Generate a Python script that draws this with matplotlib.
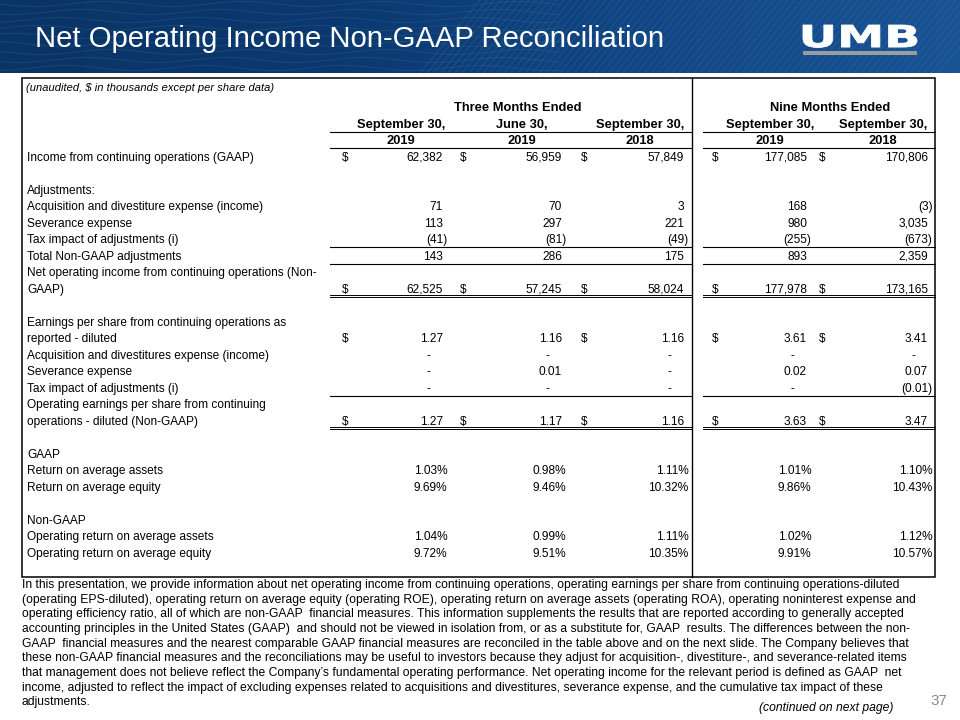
import numpy as np
import matplotlib.pyplot as plt
from matplotlib.textpath import TextPath
from matplotlib.font_manager import FontProperties
from matplotlib.patches import PathPatch, Rectangle
from matplotlib.colors import LinearSegmentedColormap
from matplotlib.transforms import Affine2D

plt.rcParams["font.family"] = ["Liberation Sans", "DejaVu Sans"]

TITLE = "Net Operating Income Non-GAAP Reconciliation"
NOTE = "(unaudited, $ in thousands except per share data)"
GROUPS = ["Three Months Ended", "Nine Months Ended"]
PERIODS = ["September 30,", "June 30,", "September 30,", "September 30,", "September 30,"]
YEARS = ["2019", "2019", "2018", "2019", "2018"]

# $ thousands
income_gaap = [62382, 56959, 57849, 177085, 170806]
acq_expense = [71, 70, 3, 168, -3]
severance = [113, 297, 221, 980, 3035]
tax_impact = [-41, -81, -49, -255, -673]
total_adj = [143, 286, 175, 893, 2359]
net_op_income = [62525, 57245, 58024, 177978, 173165]
# per share
eps_reported = [1.27, 1.16, 1.16, 3.61, 3.41]
eps_acq = [0, 0, 0, 0, 0]
eps_severance = [0, 0.01, 0, 0.02, 0.07]
eps_tax = [0, 0, 0, 0, -0.01]
eps_operating = [1.27, 1.17, 1.16, 3.63, 3.47]
# ratios, %
roa = [1.03, 0.98, 1.11, 1.01, 1.10]
roe = [9.69, 9.46, 10.32, 9.86, 10.43]
op_roa = [1.04, 0.99, 1.11, 1.02, 1.12]
op_roe = [9.72, 9.51, 10.35, 9.91, 10.57]

ALL = [1, 1, 1, 1, 1]
# (row, label, values, kind, dollar signs)
ROWS = [
    (4, "Income from continuing operations (GAAP)", income_gaap, "int", ALL),
    (6, "Adjustments:", None, None, None),
    (7, "Acquisition and divestiture expense (income)", acq_expense, "int", None),
    (8, "Severance expense", severance, "int", None),
    (9, "Tax impact of adjustments (i)", tax_impact, "int", None),
    (10, "Total Non-GAAP adjustments", total_adj, "int", None),
    (11, "Net operating income from continuing operations (Non-", None, None, None),
    (12, "GAAP)", net_op_income, "int", ALL),
    (14, "Earnings per share from continuing operations as", None, None, None),
    (15, "reported - diluted", eps_reported, "eps", [1, 0, 1, 1, 1]),
    (16, "Acquisition and divestitures expense (income)", eps_acq, "eps", None),
    (17, "Severance expense", eps_severance, "eps", None),
    (18, "Tax impact of adjustments (i)", eps_tax, "eps", None),
    (19, "Operating earnings per share from continuing", None, None, None),
    (20, "operations - diluted (Non-GAAP)", eps_operating, "eps", ALL),
    (22, "GAAP", None, None, None),
    (23, "Return on average assets", roa, "pct", None),
    (24, "Return on average equity", roe, "pct", None),
    (26, "Non-GAAP", None, None, None),
    (27, "Operating return on average assets", op_roa, "pct", None),
    (28, "Operating return on average equity", op_roe, "pct", None),
]
SINGLE_RULES = [2, 3, 9, 10, 18]
DOUBLE_RULES = [12, 20]

FOOTNOTE = [
    "In this presentation, we provide information about net operating income from continuing operations, operating earnings per share from continuing operations-diluted",
    "(operating EPS-diluted), operating return on average equity (operating ROE), operating return on average assets (operating ROA), operating noninterest expense and",
    "operating efficiency ratio, all of which are non-GAAP  financial measures. This information supplements the results that are reported according to generally accepted",
    "accounting principles in the United States (GAAP)  and should not be viewed in isolation from, or as a substitute for, GAAP  results. The differences between the non-",
    "GAAP  financial measures and the nearest comparable GAAP financial measures are reconciled in the table above and on the next slide. The Company believes that",
    "these non-GAAP financial measures and the reconciliations may be useful to investors because they adjust for acquisition-, divestiture-, and severance-related items",
    "that management does not believe reflect the Company\u2019s fundamental operating performance. Net operating income for the relevant period is defined as GAAP  net",
    "income, adjusted to reflect the impact of excluding expenses related to acquisitions and divestitures, severance expense, and the cumulative tax impact of these",
    "adjustments.",
]

# layout (pixels)
COL_RIGHT = [443, 562, 684, 807, 928]
COL_DOLLAR = [345, 463, 584, 715, 822]
COL_CENTER = [401, 522, 640, 770, 883]
GROUP_CENTER = [518, 830]
SPANS = [(330, 692), (703, 935)]
PAREN = 4.5
FS = 8.6
FS_NOTE = 8.75
BASE = 4.3   # half cap height, to sit text on a common baseline


def ry(i):
    return 90.5 + 16.5 * i


def fmt(v, kind):
    if kind == "pct":
        return f"{v:.2f}%"
    if kind == "eps":
        if v == 0:
            return "-"
        s = f"{abs(v):.2f}"
    else:
        s = f"{abs(v):,}"
    return f"({s})" if v < 0 else s


def txt(x, y, s, **kw):
    kw.setdefault("fontsize", FS)
    ax.text(x, y + BASE, s, va="baseline", **kw)


fig = plt.figure(figsize=(9.6, 7.2), dpi=100)
ax = fig.add_axes([0, 0, 1, 1])
ax.set_xlim(0, 960)
ax.set_ylim(720, 0)
ax.axis("off")

# header band
cmap = LinearSegmentedColormap.from_list("hdr", ["#0a3466", "#0b3870", "#114684", "#185394"])
grad = np.linspace(0, 1, 256)[None, :]
ax.imshow(grad, extent=[0, 960, 73, 0], cmap=cmap, aspect="auto", zorder=0)
for x0 in range(480, 1000, 7):
    ax.plot([x0, x0 - 60], [0, 73], color="#5b86b8", lw=0.5, alpha=0.3, zorder=1)
xs = np.linspace(0, 560, 300)
for k in range(9):
    ax.plot(xs, 4 + 8 * k + 2.5 * np.sin(xs / 22 + k), color="#3f8f8a", lw=0.5, alpha=0.3, zorder=1)
ax.text(35, 47, TITLE, color="white", fontsize=21.1, va="baseline", ha="left", zorder=3)

# logo
tp = TextPath((0, 0), "UMB", prop=FontProperties(family="DejaVu Sans", weight="black"))
bb = tp.get_extents()
tr = (Affine2D().translate(-bb.x0, -bb.y1).scale(114 / bb.width, -22.5 / bb.height)
      .translate(803, 25) + ax.transData)
ax.add_patch(PathPatch(tp, facecolor="white", edgecolor="white", lw=0.6, transform=tr, zorder=3))
ax.add_patch(Rectangle((803, 51.3), 114, 3.8, facecolor="#9a9ca4", edgecolor="none", zorder=3))

# table frame
ax.add_patch(Rectangle((22, 78), 913, 499, facecolor="none", edgecolor="black", lw=1.1, zorder=4))
ax.plot([692, 692], [78, 577], color="black", lw=1.0, zorder=4)

txt(26, 87, NOTE, fontsize=8.0, style="italic", ha="left")
bold = dict(fontsize=9.3, fontweight="bold", ha="center")
for g, xc in zip(GROUPS, GROUP_CENTER):
    txt(xc, ry(1), g, **bold)
for p, yr, xc in zip(PERIODS, YEARS, COL_CENTER):
    txt(xc, ry(2), p, **bold)
    txt(xc, ry(3), yr, **bold)

for row, label, vals, kind, dollars in ROWS:
    y = ry(row)
    txt(27, y, label, ha="left")
    if vals is None:
        continue
    for j, v in enumerate(vals):
        s = fmt(v, kind)
        if s == "-":
            txt(COL_RIGHT[j] - 14.5, y, s, ha="center")
        else:
            off = PAREN if (kind == "pct" or v < 0) else 0
            txt(COL_RIGHT[j] + off, y, s, ha="right")
        if dollars and dollars[j]:
            txt(COL_DOLLAR[j], y, "$", ha="center")

for r in SINGLE_RULES:
    yl = ry(r) + 8
    for x0, x1 in SPANS:
        ax.plot([x0, x1], [yl, yl], color="black", lw=0.8)
for r in DOUBLE_RULES:
    yl = ry(r) + 6.5
    for x0, x1 in SPANS:
        ax.plot([x0, x1], [yl, yl], color="black", lw=0.7)
        ax.plot([x0, x1], [yl + 2.4, yl + 2.4], color="black", lw=0.7)

# footnote
for k, line in enumerate(FOOTNOTE):
    txt(22, 584 + 14.6 * k, line, fontsize=FS_NOTE, ha="left")
txt(893, 707, "(continued on next page)", fontsize=FS_NOTE, style="italic", ha="right")
txt(939, 701, "37", fontsize=11, color="#8a8a8a", ha="center")

fig.savefig("out.png", dpi=100)
